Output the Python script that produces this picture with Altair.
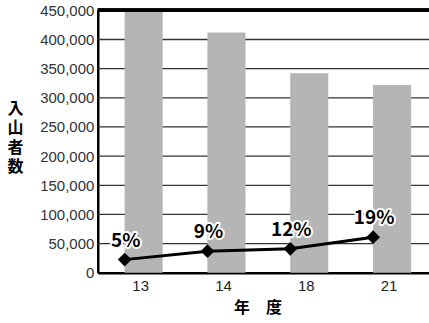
import altair as alt
import pandas as pd

years = ["13", "14", "18", "21"]
visitors = [450000, 412000, 342000, 322000]
line_vals = [22500, 37000, 41000, 61000]
pct_labels = ["5%", "9%", "12%", "19%"]
y_ticks = [0, 50000, 100000, 150000, 200000, 250000, 300000, 350000, 400000, 450000]

df = pd.DataFrame({"year": years, "visitors": visitors, "line": line_vals, "pct": pct_labels})
grid_df = pd.DataFrame({"g": y_ticks[1:-1]})

JP = "Noto Sans CJK JP"
NUM = "Liberation Sans"

x_scale = alt.Scale(paddingInner=0.54, paddingOuter=0.27, align=0.6)
y_scale = alt.Scale(domain=[0, 450000], nice=False)

x_axis = alt.Axis(title="年　度", labelAngle=0, labelFont=NUM, labelFontSize=15,
                  labelColor="#222", labelPadding=6, labelOffset=-3, ticks=False,
                  domainColor="#000", domainWidth=2.5, grid=False,
                  titleFont=JP, titleFontSize=16, titleFontWeight="bold",
                  titleColor="#000", titlePadding=6, titleX=160, titleAlign="center")

y_axis = alt.Axis(values=y_ticks, format=",.0f",
                  labelFont=NUM, labelFontSize=15, labelColor="#333",
                  labelPadding=4, ticks=False, labelOverlap=False,
                  grid=False,
                  domainColor="#000", domainWidth=2.5,
                  title=["入", "山", "者", "数"], titleAngle=0,
                  titleFont=JP, titleFontSize=16, titleFontWeight="bold",
                  titleColor="#000", titleLineHeight=19.5,
                  titleX=-83, titleY=90, titleAlign="center",
                  titleBaseline="top")

x = alt.X("year:N", sort=years, scale=x_scale, axis=x_axis)
yb = alt.Y("visitors:Q", scale=y_scale, axis=y_axis)
yl = alt.Y("line:Q", scale=y_scale, axis=y_axis)

grid = alt.Chart(grid_df).mark_rule(color="#333", strokeWidth=1.3).encode(
    y=alt.Y("g:Q", scale=y_scale, axis=y_axis), x=alt.value(0), x2=alt.value(340)
)

bars = alt.Chart(df).mark_bar(color="#b5b5b5").encode(x=x, y=yb)

line = alt.Chart(df).mark_line(color="#000", strokeWidth=3, xOffset=-19).encode(x=x, y=yl)

pts = alt.Chart(df).mark_point(shape="diamond", filled=True, color="#000", size=190,
                               opacity=1, xOffset=-19).encode(x=x, y=yl)

halo = alt.Chart(df).mark_text(font=JP, fontSize=19, fontWeight="bold", color="#fff",
                               stroke="#fff", strokeWidth=4, xOffset=-18, dy=-19,
                               strokeJoin="round").encode(x=x, y=yl, text="pct:N")
txt = alt.Chart(df).mark_text(font=JP, fontSize=19, fontWeight="bold", color="#000",
                              xOffset=-18, dy=-19).encode(x=x, y=yl, text="pct:N")

top = alt.Chart(df).mark_rule(color="#000", strokeWidth=3.5).encode(
    y=alt.value(0), x=alt.value(0), x2=alt.value(340)
)

chart = alt.layer(grid, bars, line, pts, halo, txt, top).properties(
    width=332, height=263,
    autosize=alt.AutoSizeParams(type="none"),
    padding={"left": 98, "top": 10, "right": 0, "bottom": 50},
).configure_view(stroke=None)

chart.save("out.html", embed_options={"renderer": "svg", "actions": False})
